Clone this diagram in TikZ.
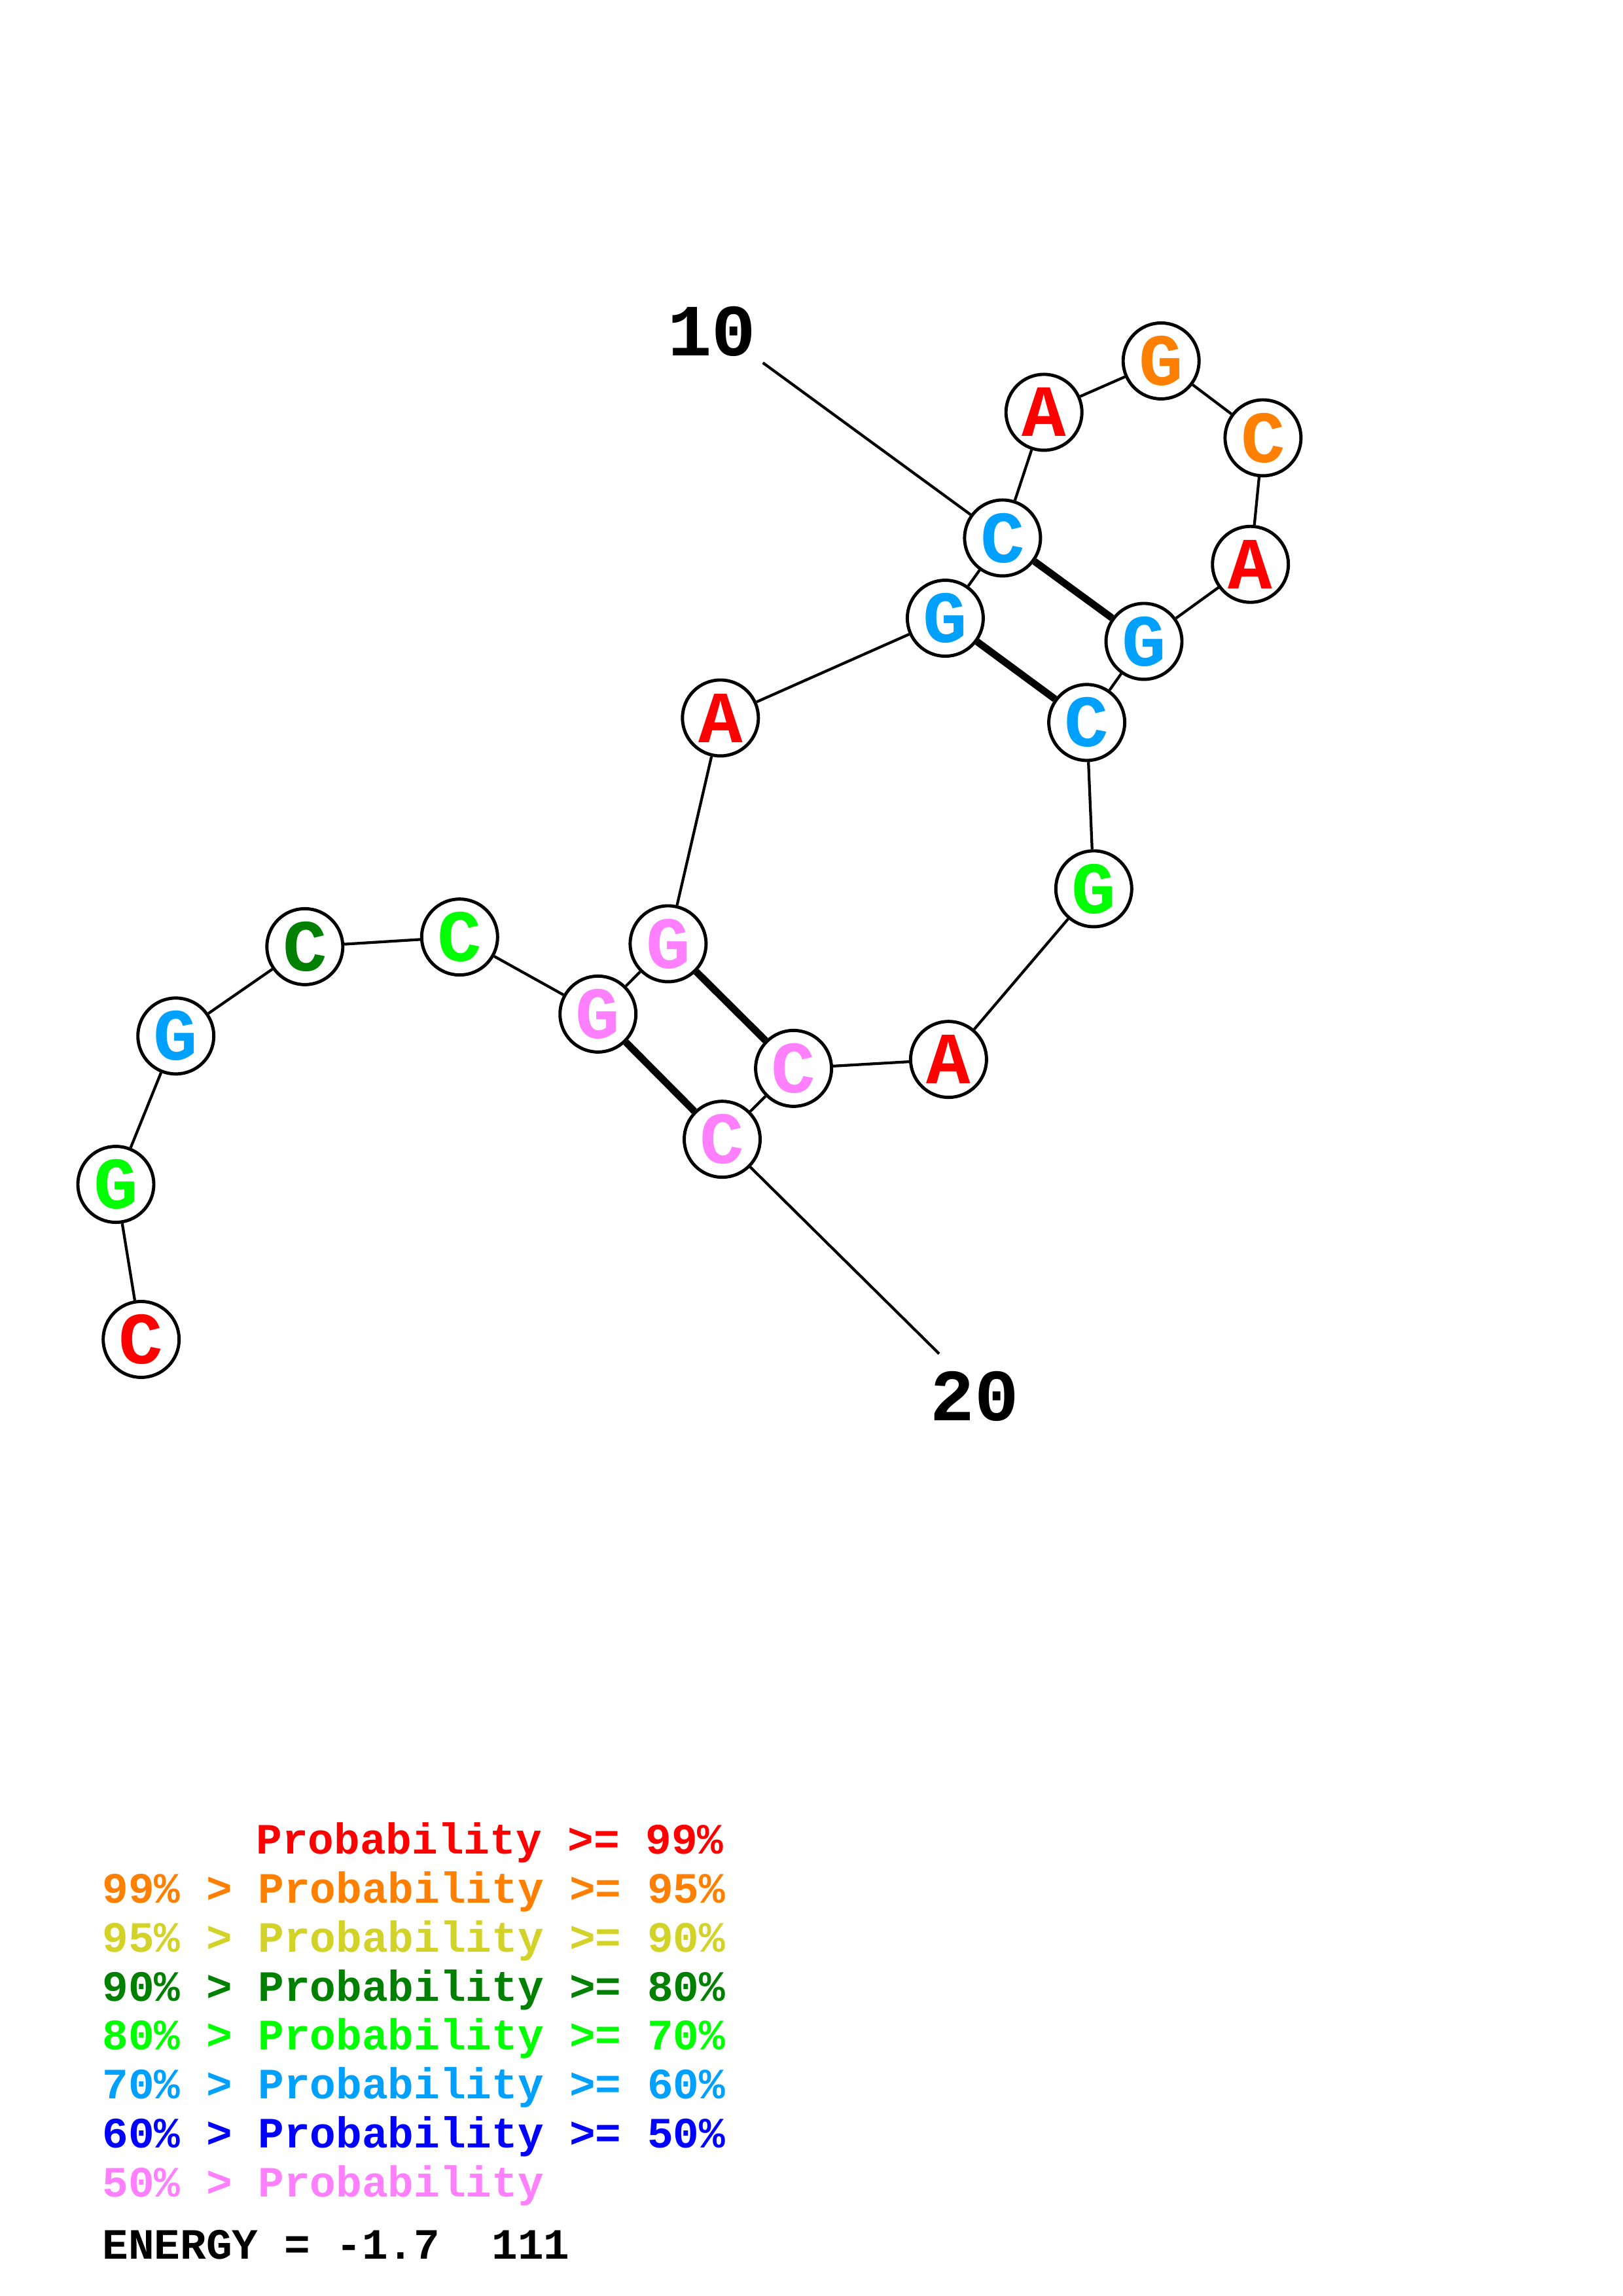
\documentclass[tikz,border=0pt]{standalone}
\usepackage{fontspec}
\setmonofont{Liberation Mono}
\usetikzlibrary{positioning}
\definecolor{pr99}{RGB}{255,0,0}
\definecolor{pr95}{RGB}{255,128,0}
\definecolor{pr90}{RGB}{210,210,40}
\definecolor{pr80}{RGB}{0,128,0}
\definecolor{pr70}{RGB}{0,255,0}
\definecolor{pr60}{RGB}{0,160,255}
\definecolor{pr50}{RGB}{0,0,255}
\definecolor{prlow}{RGB}{255,128,255}
\begin{document}
\begin{tikzpicture}[
  base/.style={circle, draw=black, line width=1.4pt, fill=white, minimum size=1.16cm, inner sep=0pt, font=\ttfamily\bfseries\fontsize{32}{32}\selectfont},
  backbone/.style={line width=1.2pt},
  pairbond/.style={line width=3.1pt},
  numlabel/.style={font=\ttfamily\bfseries\fontsize{32}{32}\selectfont},
  keyline/.style={anchor=base west, inner sep=0pt, font=\ttfamily\bfseries\fontsize{18.8}{18.8}\selectfont}]
\useasboundingbox (0,0) rectangle (24.790000,35.080000);
\node (n1) at (2.157000,14.615000) [base, text=pr99] {C};
\node (n2) at (1.770000,16.984000) [base, text=pr70] {G};
\node (n3) at (2.687000,19.251000) [base, text=pr60] {G};
\node (n4) at (4.658000,20.616000) [base, text=pr80] {C};
\node (n5) at (7.023000,20.763000) [base, text=pr70] {C};
\node (n6) at (9.137000,19.586000) [base, text=prlow] {G};
\node (n7) at (10.209000,20.660000) [base, text=prlow] {G};
\node (n8) at (11.008000,24.110000) [base, text=pr99] {A};
\node (n9) at (14.444000,25.634000) [base, text=pr60] {G};
\node (n10) at (15.319000,26.860000) [base, text=pr60] {C};
\node (n11) at (15.952000,28.780000) [base, text=pr99] {A};
\node (n12) at (17.742000,29.565000) [base, text=pr95] {G};
\node (n13) at (19.299000,28.390000) [base, text=pr95] {C};
\node (n14) at (19.107000,26.457000) [base, text=pr99] {A};
\node (n15) at (17.480000,25.280000) [base, text=pr60] {G};
\node (n16) at (16.606000,24.041000) [base, text=pr60] {C};
\node (n17) at (16.713000,21.500000) [base, text=pr70] {G};
\node (n18) at (14.494000,18.893000) [base, text=pr99] {A};
\node (n19) at (12.126000,18.756000) [base, text=prlow] {C};
\node (n20) at (11.035000,17.673000) [base, text=prlow] {C};
\foreach \i [evaluate=\i as \j using int(\i+1)] in {1,...,19}
  \draw [backbone] (n\i) -- (n\j);
\draw [pairbond] (n10) -- (n15);
\draw [pairbond] (n9) -- (n16);
\draw [pairbond] (n7) -- (n19);
\draw [pairbond] (n6) -- (n20);
\node (l10) at (10.877000,30.017000) [numlabel] {10};
\coordinate (c10) at (11.657000,29.537000);
\draw [backbone] (c10) -- (n10);
\node (l20) at (14.892000,13.747000) [numlabel] {20};
\coordinate (c20) at (14.350000,14.396000);
\draw [backbone] (c20) -- (n20);
\node (key1) at (3.910000,6.752000) [keyline, text=pr99] {Probability >= 99\%};
\node (key2) at (1.560000,6.004000) [keyline, text=pr95] {99\% > Probability >= 95\%};
\node (key3) at (1.560000,5.256000) [keyline, text=pr90] {95\% > Probability >= 90\%};
\node (key4) at (1.560000,4.508000) [keyline, text=pr80] {90\% > Probability >= 80\%};
\node (key5) at (1.560000,3.760000) [keyline, text=pr70] {80\% > Probability >= 70\%};
\node (key6) at (1.560000,3.012000) [keyline, text=pr60] {70\% > Probability >= 60\%};
\node (key7) at (1.560000,2.264000) [keyline, text=pr50] {60\% > Probability >= 50\%};
\node (key8) at (1.560000,1.516000) [keyline, text=prlow] {50\% > Probability};
\node (energy) at (1.560000,0.560000) [keyline, text=black] {ENERGY = -1.7\ \ 111};
\end{tikzpicture}
\end{document}
